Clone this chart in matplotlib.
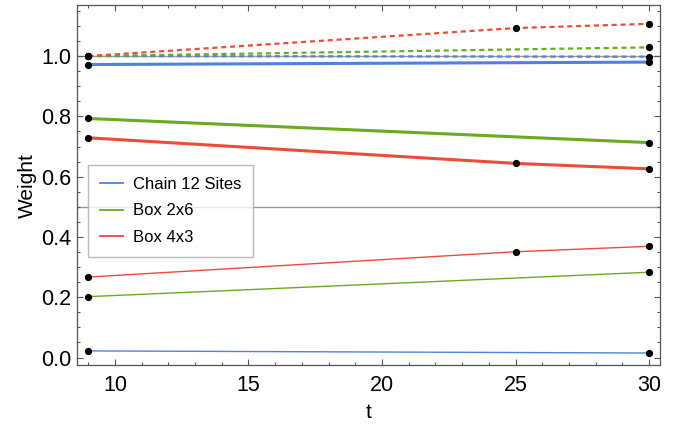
import matplotlib.pyplot as plt
from matplotlib.ticker import MultipleLocator

plt.rcParams['font.family'] = ['Liberation Sans', 'DejaVu Sans']

# time points
t_chain = [9, 30]
t_box26 = [9, 30]
t_box43 = [9, 25, 30]

# Chain 12 Sites
chain_main = [0.972, 0.980]
chain_minor = [0.022, 0.015]
chain_total = [1.0, 0.998]

# Box 2x6
box26_main = [0.793, 0.713]
box26_minor = [0.202, 0.283]
box26_total = [1.0, 1.029]

# Box 4x3
box43_main = [0.729, 0.644, 0.626]
box43_minor = [0.267, 0.351, 0.369]
box43_total = [1.0, 1.093, 1.107]

labels = ['Chain 12 Sites', 'Box 2x6', 'Box 4x3']
colors = ['#5080e2', '#6aab20', '#ec4c38']

fig = plt.figure(figsize=(6.81, 4.28), dpi=100)
ax = fig.add_axes([0.1126, 0.147, 0.8566, 0.841])

ax.axhline(1.0, color='#999999', lw=1.0, zorder=1)
ax.axhline(0.5, color='#999999', lw=1.0, zorder=1)

series = [
    (t_chain, chain_main, chain_minor, chain_total),
    (t_box26, box26_main, box26_minor, box26_total),
    (t_box43, box43_main, box43_minor, box43_total),
]

handles = []
for (t, main, minor, total), c, lab in zip(series, colors, labels):
    ax.plot(t, main, color=c, lw=2.2, zorder=2)
    ax.plot(t, minor, color=c, lw=1.0, zorder=2)
    ax.plot(t, total, color=c, lw=1.6, ls=(0, (2.3, 1.7)), zorder=2)
    for vals in (main, minor, total):
        ax.plot(t, vals, 'o', color='black', ms=4.2, zorder=3)
    handles.append(plt.Line2D([], [], color=c, lw=1.3, label=lab))

ax.set_xlim(8.57, 30.41)
ax.set_ylim(-0.025, 1.169)

ax.xaxis.set_major_locator(MultipleLocator(5))
ax.xaxis.set_minor_locator(MultipleLocator(1))
ax.yaxis.set_major_locator(MultipleLocator(0.2))
ax.yaxis.set_minor_locator(MultipleLocator(0.05))
ax.yaxis.set_major_formatter(plt.FuncFormatter(lambda v, p: f'{v:.1f}'))

ax.tick_params(which='both', direction='in', top=True, right=True,
               color='#555555', labelsize=15.5, width=0.8)
ax.tick_params(which='major', length=4.5)
ax.tick_params(which='minor', length=2.5)
ax.tick_params(axis='x', pad=7)
ax.tick_params(axis='y', pad=4)

for sp in ax.spines.values():
    sp.set_color('#555555')
    sp.set_linewidth(0.9)

ax.set_xlabel('t', fontsize=15, labelpad=5)
ax.set_ylabel('Weight', fontsize=15, labelpad=3)

leg = ax.legend(handles=handles, loc='lower left', bbox_to_anchor=(0.02, 0.301),
                borderaxespad=0, fontsize=12, frameon=True, fancybox=False,
                edgecolor='#aaaaaa', handlelength=1.4, handletextpad=0.6,
                labelspacing=0.7, borderpad=0.7)
leg.get_frame().set_linewidth(1.0)

fig.savefig('out.png', dpi=100)
